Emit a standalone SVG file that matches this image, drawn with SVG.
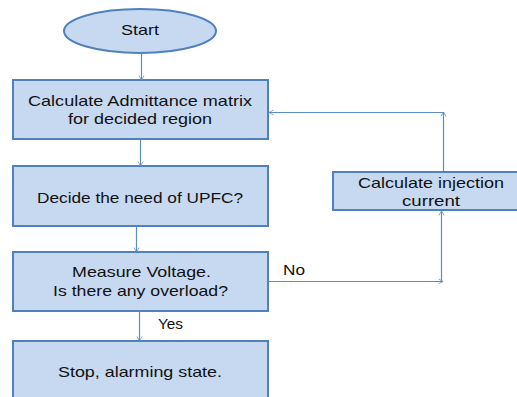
<svg xmlns="http://www.w3.org/2000/svg" width="517" height="397" viewBox="0 0 517 397">
<defs>
<style>
.node{fill:#C6D9F1;stroke:#4F81BD;stroke-width:2}
.lbl{font-family:"Liberation Sans",Arial,sans-serif;font-size:15px;fill:#111}
.conn{stroke:#5B8CC8;stroke-width:1.2;fill:none;marker-end:url(#arr)}
</style>
<marker id="arr" viewBox="0 0 10 10" refX="10" refY="5" markerWidth="5" markerHeight="5" markerUnits="userSpaceOnUse" orient="auto" overflow="visible">
<path d="M1,0 L10,5 L1,10" fill="none" stroke="#5B8CC8" stroke-width="1.5"/>
</marker>
</defs>
<rect width="517" height="397" fill="#fff"/>
<g id="start">
<ellipse class="node" cx="140" cy="31" rx="76" ry="22"/>
<text class="lbl" x="121" y="35" textLength="38" lengthAdjust="spacingAndGlyphs">Start</text>
</g>
<g id="admittance">
<rect class="node" x="13" y="80" width="255" height="59"/>
<text class="lbl" x="28" y="106" textLength="224" lengthAdjust="spacingAndGlyphs">Calculate Admittance matrix</text>
<text class="lbl" x="68" y="124" textLength="144" lengthAdjust="spacingAndGlyphs">for decided region</text>
</g>
<g id="decide">
<rect class="node" x="13" y="166" width="255" height="60"/>
<text class="lbl" x="37" y="203" textLength="206" lengthAdjust="spacingAndGlyphs">Decide the need of UPFC?</text>
</g>
<g id="measure">
<rect class="node" x="13" y="252" width="255" height="59"/>
<text class="lbl" x="72" y="277" textLength="139" lengthAdjust="spacingAndGlyphs">Measure Voltage.</text>
<text class="lbl" x="53" y="296" textLength="175" lengthAdjust="spacingAndGlyphs">Is there any overload?</text>
</g>
<g id="stop">
<rect class="node" x="13" y="341" width="255" height="62"/>
<text class="lbl" x="58" y="377" textLength="164" lengthAdjust="spacingAndGlyphs">Stop, alarming state.</text>
</g>
<g id="injection">
<rect class="node" x="333" y="172" width="190" height="38"/>
<text class="lbl" x="358" y="188" textLength="146" lengthAdjust="spacingAndGlyphs">Calculate injection</text>
<text class="lbl" x="402" y="206" textLength="58" lengthAdjust="spacingAndGlyphs">current</text>
</g>
<g id="connectors">
<line class="conn" x1="141.5" y1="53" x2="141.5" y2="80"/>
<line class="conn" x1="140.5" y1="139" x2="140.5" y2="166"/>
<line class="conn" x1="136.5" y1="226" x2="136.5" y2="252"/>
<line class="conn" x1="139.5" y1="311" x2="139.5" y2="341"/>
<line class="conn" x1="268" y1="281.5" x2="443" y2="281.5"/>
<line class="conn" x1="441.5" y1="282" x2="441.5" y2="211"/>
<line class="conn" x1="443.5" y1="171" x2="443.5" y2="112"/>
<polyline class="conn" points="443.5,112.5 269,112.5"/>
<text class="lbl" x="158" y="329" textLength="25" lengthAdjust="spacingAndGlyphs">Yes</text>
<text class="lbl" x="283" y="275" textLength="22" lengthAdjust="spacingAndGlyphs">No</text>
</g>
</svg>
